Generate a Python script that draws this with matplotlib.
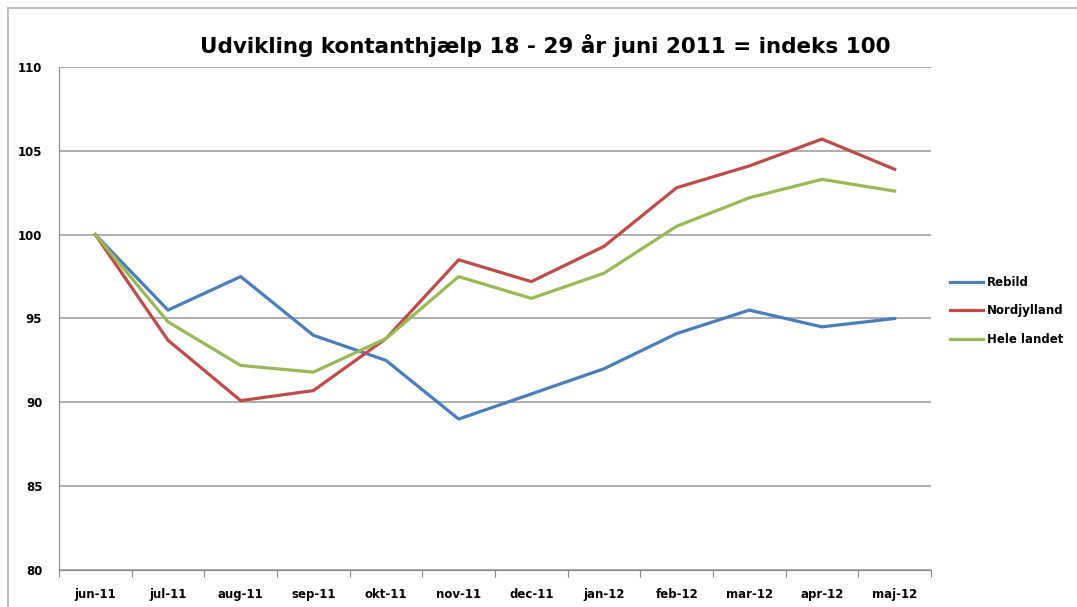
import matplotlib
matplotlib.use("Agg")
import matplotlib.pyplot as plt
from matplotlib.lines import Line2D

months = ["jun-11", "jul-11", "aug-11", "sep-11", "okt-11", "nov-11",
          "dec-11", "jan-12", "feb-12", "mar-12", "apr-12", "maj-12"]
rebild = [100, 95.5, 97.5, 94.0, 92.5, 89.0, 90.5, 92.0, 94.1, 95.5, 94.5, 95.0]
nordjylland = [100, 93.7, 90.1, 90.7, 93.8, 98.5, 97.2, 99.3, 102.8, 104.1, 105.7, 103.9]
hele_landet = [100, 94.8, 92.2, 91.8, 93.8, 97.5, 96.2, 97.7, 100.5, 102.2, 103.3, 102.6]

plt.rcParams['font.family'] = ['DejaVu Sans']

fig = plt.figure(figsize=(10.77, 6.07), dpi=100)
ax = fig.add_axes([0.0548, 0.061, 0.8096, 0.8286])

x = list(range(len(months)))
ax.plot(x, rebild, color='#4a7ebb', lw=2.3, label="Rebild")
ax.plot(x, nordjylland, color='#be4b48', lw=2.3, label="Nordjylland")
ax.plot(x, hele_landet, color='#98b954', lw=2.3, label="Hele landet")

ax.set_xlim(-0.5, 11.5)
ax.set_ylim(80, 110)
ax.set_yticks(range(80, 111, 5))
ax.set_xticks([i - 0.5 for i in range(13)], minor=False)
ax.set_xticklabels([])
ax.set_xticks(x, minor=True)
ax.set_xticklabels(months, minor=True, fontsize=8.5, fontweight='bold')
ax.tick_params(axis='x', which='minor', length=0, pad=13)
ax.tick_params(axis='x', which='major', length=5, color='#868686', direction='out')
ax.tick_params(axis='y', length=0, labelsize=8.5, pad=12)
for t in ax.get_yticklabels():
    t.set_fontweight('bold')

ax.yaxis.grid(True, color='#a0a0a0', lw=1.2)
ax.set_axisbelow(True)
for s in ['top', 'right']:
    ax.spines[s].set_visible(False)
ax.spines['left'].set_color('#868686')
ax.spines['bottom'].set_color('#868686')

fig.text(0.506, 0.925, "Udvikling kontanthjælp 18 - 29 år juni 2011 = indeks 100",
         ha='center', va='center', fontsize=15.5, fontweight='bold')

ax.legend(loc='center left', bbox_to_anchor=(1.01, 0.515), frameon=False,
          prop={'weight': 'bold', 'size': 8.5},
          handlelength=2.8, handletextpad=0.3, labelspacing=1.3)

# chart frame (Excel style)
fig.add_artist(Line2D([0.0075, 1.0], [0.987, 0.987], color='#bfbfbf', lw=1.5))
fig.add_artist(Line2D([0.0075, 0.0075], [0.0, 0.987], color='#bfbfbf', lw=1.5))

plt.savefig("out.png", dpi=100)
